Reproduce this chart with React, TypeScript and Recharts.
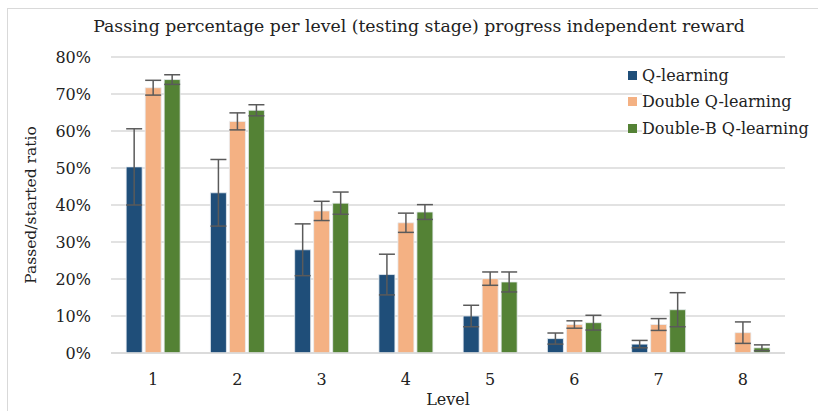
import {
    BarChart,
    Bar,
    XAxis,
    YAxis,
    CartesianGrid,
    Legend,
    ErrorBar,
} from 'recharts'

const levels = ['1', '2', '3', '4', '5', '6', '7', '8']

const qLearning = [50.3, 43.3, 27.9, 21.2, 10.0, 3.9, 2.4, 0]
const qLearningErr = [10.3, 9.0, 7.0, 5.5, 2.9, 1.5, 1.0, null]

const doubleQ = [71.7, 62.6, 38.4, 35.2, 20.1, 7.7, 7.7, 5.5]
const doubleQErr = [2.0, 2.3, 2.6, 2.6, 1.8, 1.0, 1.6, 2.9]

const doubleBQ = [73.9, 65.6, 40.5, 38.1, 19.2, 8.2, 11.7, 1.4]
const doubleBQErr = [1.3, 1.5, 3.0, 2.0, 2.7, 2.0, 4.6, 0.8]

const yTicks = [0, 10, 20, 30, 40, 50, 60, 70, 80]

const series = [
    { key: 'q', errKey: 'qErr', name: 'Q-learning', color: '#1f4e79' },
    { key: 'd', errKey: 'dErr', name: 'Double Q-learning', color: '#f4b183' },
    { key: 'b', errKey: 'bErr', name: 'Double-B Q-learning', color: '#548235' },
]

const data = levels.map((level, i) => ({
    level,
    q: qLearning[i],
    qErr: qLearningErr[i],
    d: doubleQ[i],
    dErr: doubleQErr[i],
    b: doubleBQ[i],
    bErr: doubleBQErr[i],
}))

const FONT = '"DejaVu Serif", serif'

function LegendBox() {
    return (
        <div style={{ fontFamily: FONT, fontSize: 16, color: '#222' }}>
            {series.map(s => (
                <div key={s.key} style={{ display: 'flex', alignItems: 'center', height: 26.5 }}>
                    <span style={{ width: 9, height: 9, background: s.color, marginRight: 5 }} />
                    <span style={{ background: '#fff', whiteSpace: 'nowrap' }}>{s.name}</span>
                </div>
            ))}
        </div>
    )
}

export default function App() {
    return (
        <div style={{ position: 'fixed', left: 0, top: 0, width: 818, height: 411, background: '#fff' }}>
            <div style={{ position: 'absolute', left: 7, top: 8, width: 811, height: 403, borderLeft: '1.5px solid #d9d9d9', borderTop: '1.5px solid #d9d9d9' }} />
            <div style={{ position: 'absolute', left: 0, top: 16, width: 838, textAlign: 'center', fontFamily: FONT, fontSize: 17.3, color: '#222' }}>
                Passing percentage per level (testing stage) progress independent reward
            </div>
            <BarChart
                width={818}
                height={411}
                data={data}
                margin={{ top: 57, right: 33, left: 0, bottom: 28 }}
                barCategoryGap="18%"
                barGap={3}
            >
                <CartesianGrid vertical={false} stroke="#d9d9d9" strokeWidth={1.5} />
                <XAxis
                    dataKey="level"
                    axisLine={{ stroke: '#d9d9d9', strokeWidth: 1.5 }}
                    tickLine={false}
                    tick={{ fontFamily: FONT, fontSize: 16, fill: '#222' }}
                    tickMargin={15}
                    height={30}
                    label={{ value: 'Level', position: 'insideBottom', offset: -22, fontFamily: FONT, fontSize: 16, fill: '#222' }}
                />
                <YAxis
                    width={111}
                    domain={[0, 80]}
                    ticks={yTicks}
                    interval={0}
                    axisLine={false}
                    tickLine={false}
                    tickFormatter={v => `${v}%`}
                    tick={{ fontFamily: FONT, fontSize: 16, fill: '#222' }}
                    tickMargin={14}
                    label={{ value: 'Passed/started ratio', angle: -90, position: 'insideLeft', offset: 30, style: { textAnchor: 'middle' }, fontFamily: FONT, fontSize: 15.5, fill: '#222' }}
                />
                <Legend
                    layout="vertical"
                    align="center"
                    verticalAlign="middle"
                    wrapperStyle={{ left: 628, top: 62, width: 190 }}
                    content={() => <LegendBox />}
                />
                {series.map(s => (
                    <Bar
                        key={s.key}
                        dataKey={s.key}
                        name={s.name}
                        fill={s.color}
                        stroke="#e8eef3"
                        strokeWidth={0.8}
                        isAnimationActive={false}
                    >
                        <ErrorBar dataKey={s.errKey} width={8} stroke="#5a5a5a" strokeWidth={1.5} />
                    </Bar>
                ))}
            </BarChart>
        </div>
    )
}
